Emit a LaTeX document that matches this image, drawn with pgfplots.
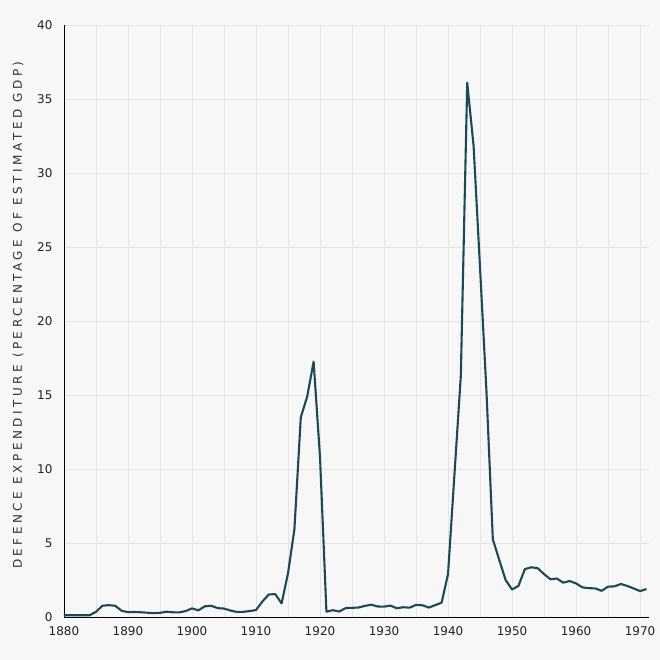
\documentclass[border=0pt]{standalone}
\usepackage{pgfplots}
\pgfplotsset{compat=1.18}
\usepackage{fontspec}
\setmainfont{DejaVu Sans}
\usetikzlibrary{backgrounds}
\definecolor{bg}{HTML}{F7F7F7}
\definecolor{gridc}{HTML}{E4E4E4}
\definecolor{linec}{HTML}{1B4A56}
\definecolor{txt}{HTML}{222222}
\begin{document}
\begin{tikzpicture}
\begin{axis}[name=ax, at={(0,0)}, anchor=south west,
  scale only axis, width=585bp, height=592bp,
  xmin=1880, xmax=1971.4, ymin=0, ymax=40,
  axis x line=bottom, axis y line=left,
  axis line style={black, line width=0.9bp, -},
  xtick={1880,1890,...,1970}, minor xtick={1885,1895,...,1965},
  ytick={0,5,...,40},
  grid=both,
  major grid style={gridc, line width=0.8bp},
  minor grid style={gridc, line width=0.8bp},
  major tick length=0pt, minor tick length=0pt,
  /pgf/number format/assume math mode=true,
  /pgf/number format/1000 sep={},
  xticklabel style={font=\fontsize{12bp}{14bp}\selectfont, text=txt, yshift=-6bp},
  yticklabel style={font=\fontsize{12bp}{14bp}\selectfont, text=txt, xshift=-8bp},
  ylabel={\addfontfeature{LetterSpace=29}DEFENCE EXPENDITURE (PERCENTAGE OF ESTIMATED GDP)},
  ylabel style={at={(axis description cs:-0.072,0.51)}, anchor=base, rotate=0, font=\fontsize{12bp}{14bp}\selectfont, text=black!80},
]
\addplot[linec, line width=2.1bp, line join=round] coordinates {
(1880,0.12)(1881,0.12)(1882,0.12)(1883,0.12)(1884,0.12)(1885,0.35)(1886,0.76)(1887,0.8)(1888,0.76)(1889,0.42)
(1890,0.33)(1891,0.34)(1892,0.32)(1893,0.29)(1894,0.26)(1895,0.28)(1896,0.36)(1897,0.32)(1898,0.31)(1899,0.4)
(1900,0.58)(1901,0.45)(1902,0.72)(1903,0.76)(1904,0.6)(1905,0.57)(1906,0.44)(1907,0.34)(1908,0.35)(1909,0.4)
(1910,0.47)(1911,1.05)(1912,1.52)(1913,1.55)(1914,0.92)(1915,2.95)(1916,5.93)(1917,13.5)(1918,14.9)(1919,17.25)
(1920,10.8)(1921,0.36)(1922,0.46)(1923,0.37)(1924,0.6)(1925,0.62)(1926,0.64)(1927,0.75)(1928,0.83)(1929,0.71)
(1930,0.7)(1931,0.77)(1932,0.59)(1933,0.66)(1934,0.63)(1935,0.82)(1936,0.79)(1937,0.64)(1938,0.8)(1939,0.97)
(1940,2.9)(1941,9.6)(1942,16.3)(1943,36.1)(1944,31.8)(1945,23.6)(1946,15.3)(1947,5.25)(1948,3.86)(1949,2.5)
(1950,1.86)(1951,2.1)(1952,3.23)(1953,3.36)(1954,3.3)(1955,2.9)(1956,2.55)(1957,2.6)(1958,2.32)(1959,2.43)
(1960,2.27)(1961,2.0)(1962,1.95)(1963,1.93)(1964,1.77)(1965,2.05)(1966,2.07)(1967,2.23)(1968,2.1)(1969,1.93)
(1970,1.75)(1971,1.89)
};
\end{axis}
\begin{scope}[on background layer]
\fill[bg] ([xshift=-64bp,yshift=-43bp]ax.south west) rectangle ([xshift=11bp,yshift=25bp]ax.north east);
\end{scope}
\end{tikzpicture}
\end{document}
